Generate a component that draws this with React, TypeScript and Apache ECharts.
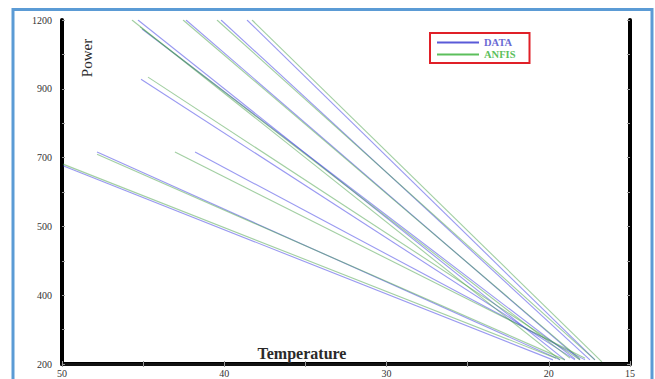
import React, { useEffect, useRef } from "react";
import * as echarts from "echarts";

// Y axis: tick positions 0..10 carry these power labels (as printed on the reference)
const yTickLabels = ["200", "", "400", "", "500", "", "700", "", "900", "", "1200"];
// X axis: temperature tick labels shown
const xTickLabels: Record<number, string> = { 50: "50", 40: "40", 30: "30", 20: "20", 15: "15" };

// Each line: [[temperatureStart, powerTickStart], [temperatureEnd, powerTickEnd]]
const dataLines: number[][][] = [
  [[45.32, 10], [19.01, 0.12]],
  [[45.07, 9.74], [18.39, 0.15]],
  [[42.36, 10], [18.08, 0.12]],
  [[40.2, 10], [17.47, 0.12]],
  [[38.6, 10], [17.16, 0.12]],
  [[45.13, 8.28], [18.39, 0.12]],
  [[47.84, 6.16], [19.31, 0.12]],
  [[41.8, 6.16], [17.77, 0.12]],
  [[49.94, 5.76], [19.75, 0.12]],
];

const anfisLines: number[][][] = [
  [[45.69, 10], [19.31, 0.12]],
  [[45.19, 9.8], [18.7, 0.17]],
  [[42.54, 10], [18.08, 0.15]],
  [[40.45, 10], [17.16, 0.12]],
  [[38.29, 10], [16.73, 0.06]],
  [[44.7, 8.34], [18.08, 0.12]],
  [[47.84, 6.1], [19.01, 0.12]],
  [[43.04, 6.16], [17.77, 0.17]],
  [[49.94, 5.81], [19.56, 0.17]],
];

const SERIF = "'Liberation Serif', 'DejaVu Serif', serif";
const BLUE = "rgba(70,70,230,0.55)";
const GREEN = "rgba(70,160,70,0.5)";

export default function App() {
  const ref = useRef<HTMLDivElement>(null);
  useEffect(() => {
    document.body.style.margin = "0";
    const chart = echarts.init(ref.current!, null, { renderer: "svg" });

    const mk = (name: string, pts: number[][], color: string) => ({
      type: "line",
      name,
      data: pts,
      xAxisIndex: 0,
      yAxisIndex: 0,
      symbol: "none",
      showSymbol: false,
      silent: true,
      itemStyle: { color: name === "DATA" ? "#5a5ad8" : "#5cbf5c" },
      lineStyle: { color, width: 1.1 },
    });

    const series: any[] = [];
    dataLines.forEach((l) => series.push(mk("DATA", l, BLUE)));
    anfisLines.forEach((l) => series.push(mk("ANFIS", l, GREEN)));

    const tickStyle = { show: true, inside: true, length: 3, lineStyle: { color: "#999", width: 1 } };

    chart.setOption({
      animation: false,
      backgroundColor: "#fff",
      grid: { left: 62, right: 25, top: 20, bottom: 15 },
      legend: {
        data: [
          { name: "DATA", textStyle: { color: "#6a6ad4" } },
          { name: "ANFIS", textStyle: { color: "#5cbf5c" } },
        ],
        orient: "vertical",
        left: 430,
        top: 33,
        icon: "rect",
        itemWidth: 42,
        itemHeight: 2,
        itemGap: 1,
        padding: [4, 14, 3, 7],
        borderColor: "#e02028",
        borderWidth: 2,
        textStyle: { fontFamily: SERIF, fontSize: 10.5, fontWeight: "bold" },
      },
      xAxis: [
        {
          type: "value",
          min: 15,
          max: 50,
          interval: 5,
          inverse: true,
          position: "bottom",
          axisLine: { show: true, lineStyle: { color: "#000", width: 4 } },
          axisTick: tickStyle,
          splitLine: { show: false },
          axisLabel: {
            formatter: (v: number) => xTickLabels[v] ?? "",
            fontFamily: SERIF,
            fontSize: 10,
            color: "#333",
            margin: 4,
            showMinLabel: true,
            showMaxLabel: true,
          },
        },
        {
          type: "value",
          min: 15,
          max: 50,
          interval: 5,
          inverse: true,
          position: "top",
          axisLine: { show: true, lineStyle: { color: "#111", width: 3 } },
          axisTick: tickStyle,
          splitLine: { show: false },
          axisLabel: { show: false },
        },
      ],
      yAxis: [
        {
          type: "value",
          min: 0,
          max: 10,
          interval: 1,
          position: "left",
          axisLine: { show: true, lineStyle: { color: "#000", width: 4 } },
          axisTick: tickStyle,
          splitLine: { show: false },
          axisLabel: {
            formatter: (v: number) => yTickLabels[Math.round(v)] ?? "",
            fontFamily: SERIF,
            fontSize: 10,
            color: "#333",
            margin: 10,
            showMinLabel: true,
            showMaxLabel: true,
          },
        },
        {
          type: "value",
          min: 0,
          max: 10,
          interval: 1,
          position: "right",
          axisLine: { show: true, lineStyle: { color: "#000", width: 4 } },
          axisTick: tickStyle,
          splitLine: { show: false },
          axisLabel: { show: false },
        },
      ],
      graphic: [
        {
          type: "rect",
          shape: { x: 13, y: 9.5, width: 639, height: 420 },
          style: { fill: "none", stroke: "#5b9bd5", lineWidth: 3 },
          silent: true,
          z: 0,
        },
        {
          type: "text",
          x: 87,
          y: 58,
          rotation: Math.PI / 2,
          style: {
            text: "Power",
            fontFamily: SERIF,
            fontSize: 15,
            fill: "#2a2a2a",
            align: "center",
            verticalAlign: "middle",
          },
          z: 10,
        },
        {
          type: "text",
          x: 302,
          y: 353,
          style: {
            text: "Temperature",
            fontFamily: SERIF,
            fontSize: 16,
            fontWeight: "bold",
            fill: "#2a2a2a",
            align: "center",
            verticalAlign: "middle",
          },
          z: 10,
        },
      ],
      series,
    });
    return () => chart.dispose();
  }, []);
  return <div ref={ref} style={{ width: 655, height: 379 }} />;
}
